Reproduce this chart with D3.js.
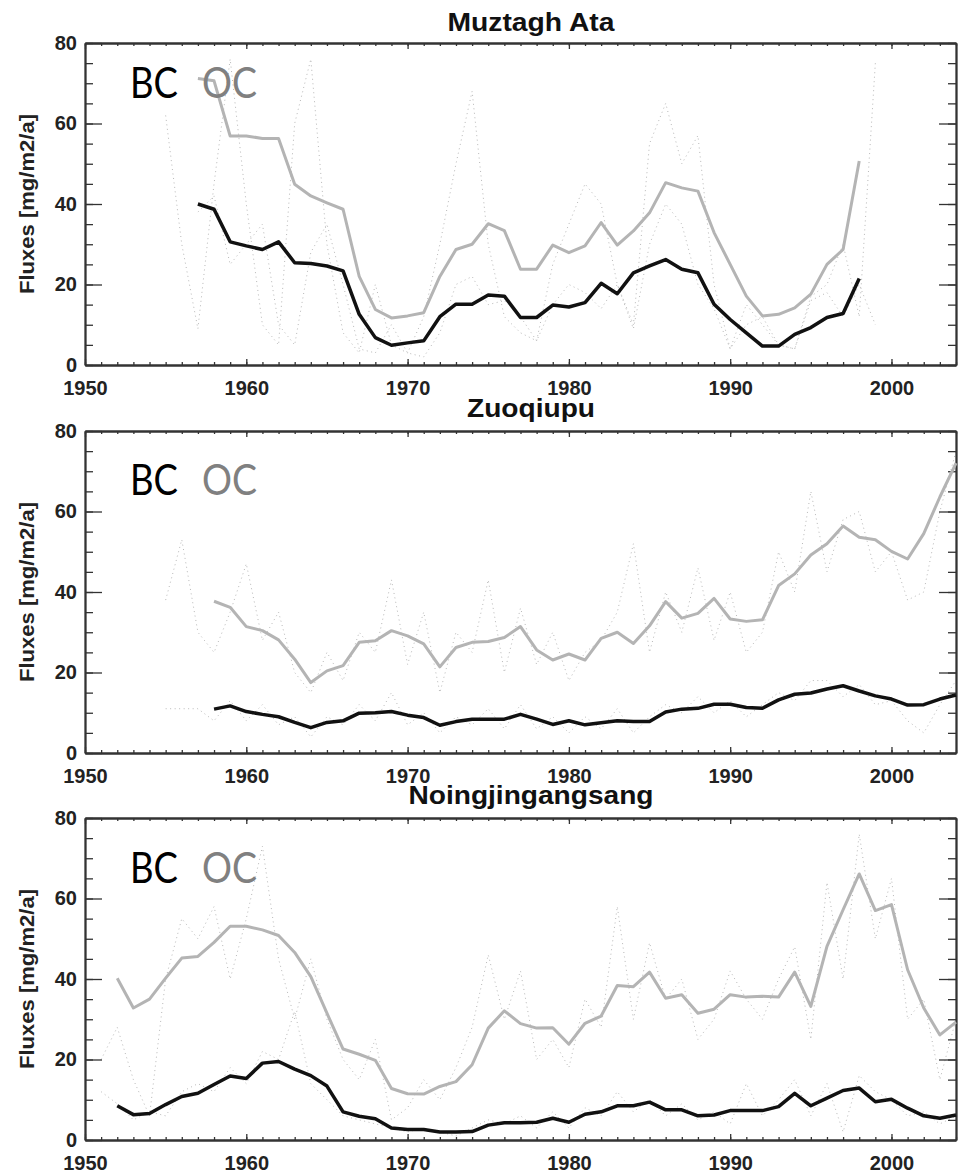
<!DOCTYPE html>
<html>
<head>
<meta charset="utf-8">
<script src="https://cdn.jsdelivr.net/npm/d3@7"></script>
<style>
  body { margin: 0; background: #fff; }
  svg text { font-family: "Liberation Sans", Arial, sans-serif; }
</style>
</head>
<body>
<script>
// tick labels
var xTicks = [1950, 1960, 1970, 1980, 1990, 2000];
var yTicks = [0, 20, 40, 60, 80];
var titles = ["Muztagh Ata", "Zuoqiupu", "Noingjingangsang"];

// Muztagh Ata, smoothed fluxes from 1957
var muztaghStart = 1957;
var muztaghBC = [40, 38.7, 30.6, 29.6, 28.7, 30.6, 25.4, 25.2, 24.6, 23.4, 12.6, 6.8, 4.9, 5.5, 6.0, 12.0,
  15.1, 15.1, 17.4, 17.1, 11.8, 11.8, 14.9, 14.4, 15.5, 20.3, 17.7, 22.9, 24.6, 26.2, 23.8, 22.9,
  15.1, 11.3, 8.0, 4.7, 4.7, 7.6, 9.3, 11.8, 12.8, 21.5];
var muztaghOC = [71.2, 70.6, 56.9, 56.9, 56.3, 56.3, 44.9, 42.0, 40.3, 38.7, 22.0, 13.8, 11.7, 12.2, 13.0, 22.0,
  28.7, 30.0, 35.1, 33.4, 23.8, 23.8, 29.8, 27.9, 29.6, 35.4, 29.8, 33.3, 37.8, 45.3, 44.0, 43.2,
  32.9, 25.0, 17.1, 12.2, 12.6, 14.2, 17.6, 25.0, 28.7, 50.7];
// Muztagh Ata, annual values (dotted), estimated, from 1955
var muztaghRawStart = 1955;
var muztaghOCraw = [62, 30, 9, 45, 76, 40, 10, 5, 60, 76, 30, 8, 3, 20, 5, 3, 12, 30, 50, 68, 30, 12, 8, 6,
  25, 35, 45, 40, 20, 10, 55, 65, 50, 57, 20, 4, 15, 10, 5, 4, 17, 20, 30, 12, 75];
var muztaghBCraw = [null, null, 38, 42, 25, 30, 35, 10, 5, 28, 35, 20, 4, 3, 10, 3, 2, 8, 20, 22, 15, 16, 12, 6,
  15, 20, 18, 14, 20, 9, 30, 40, 35, 20, 14, 4, 10, 12, 5, 4, 16, 18, 12, 20, 10];

// Zuoqiupu, from 1958
var zuoqiupuStart = 1958;
var zuoqiupuBC = [10.9, 11.7, 10.3, 9.6, 9.0, 7.6, 6.3, 7.6, 8.0, 9.9, 10.0, 10.3, 9.4, 8.8, 6.9, 7.8,
  8.4, 8.4, 8.4, 9.6, 8.4, 7.1, 8.0, 7.0, 7.5, 8.0, 7.8, 7.8, 10.2, 10.9, 11.1, 12.1,
  12.1, 11.3, 11.1, 13.2, 14.6, 14.9, 15.9, 16.7, 15.4, 14.2, 13.4, 11.9, 12.0, 13.4, 14.4];
var zuoqiupuOC = [37.7, 36.2, 31.4, 30.4, 28.1, 23.3, 17.5, 20.4, 21.7, 27.5, 27.9, 30.4, 29.1, 27.1, 21.4, 26.2,
  27.5, 27.7, 28.7, 31.4, 25.6, 23.1, 24.6, 23.1, 28.5, 30.0, 27.2, 31.6, 37.6, 33.5, 34.7, 38.4,
  33.3, 32.7, 33.1, 41.6, 44.5, 49.2, 52.0, 56.4, 53.6, 53.0, 50.1, 48.2, 54.5, 63.6, 72.0];
// Zuoqiupu, annual values (dotted), estimated, from 1955
var zuoqiupuRawStart = 1955;
var zuoqiupuOCraw = [38, 53, 30, 25, 35, 47, 28, 35, 20, 15, 25, 18, 30, 25, 43, 22, 35, 15, 30, 25, 43, 20,
  36, 22, 30, 18, 25, 28, 35, 52, 25, 40, 30, 46, 28, 40, 25, 30, 50, 40, 65, 45, 58, 60, 45, 50,
  38, 40, 60, 75];
var zuoqiupuBCraw = [11, 11, 11, 8, 13, 8, 12, 7, 9, 4, 9, 7, 12, 8, 15, 7, 10, 5, 9, 7, 11, 6,
  12, 6, 9, 5, 9, 6, 11, 5, 9, 12, 10, 14, 10, 13, 9, 12, 15, 13, 18, 18, 14, 17, 12, 13,
  8, 5, 12, 18];

// Noingjingangsang, from 1952
var noingStart = 1952;
var noingBC = [8.5, 6.3, 6.6, 8.8, 10.8, 11.6, 13.8, 15.9, 15.3, 19.1, 19.5, 17.6, 16.0, 13.4, 7.0, 5.9,
  5.3, 3.0, 2.6, 2.6, 2.0, 2.0, 2.1, 3.7, 4.3, 4.3, 4.4, 5.4, 4.4, 6.4, 7.0, 8.5,
  8.5, 9.4, 7.5, 7.5, 6.0, 6.2, 7.3, 7.3, 7.3, 8.3, 11.6, 8.5, 10.4, 12.3, 12.9, 9.5,
  10.1, 7.9, 6.0, 5.4, 6.2];
var noingOC = [40.2, 32.8, 35.0, 40.2, 45.2, 45.6, 49.1, 53.1, 53.1, 52.2, 50.8, 46.6, 40.6, 31.5, 22.6, 21.3,
  19.8, 12.8, 11.5, 11.4, 13.3, 14.5, 18.7, 27.8, 32.1, 28.9, 27.8, 27.9, 23.8, 29.0, 30.8, 38.4,
  38.1, 41.7, 35.2, 36.1, 31.5, 32.5, 36.1, 35.5, 35.7, 35.5, 41.7, 33.2, 48.1, 57.2, 66.1, 57.0,
  58.5, 42.3, 32.8, 26.1, 29.3];
// Noingjingangsang, annual values (dotted), estimated, from 1951
var noingRawStart = 1951;
var noingOCraw = [20, 28, 15, 6, 40, 55, 50, 58, 40, 55, 73, 45, 30, 45, 30, 20, 15, 25, 5, 8, 15, 10,
  18, 28, 46, 30, 42, 20, 25, 18, 35, 28, 58, 30, 49, 35, 40, 25, 30, 42, 35, 30, 40, 48, 25, 64,
  40, 76, 50, 65, 30, 35, 15, 30];
var noingBCraw = [12, 9, 5, 7, 6, 12, 14, 12, 18, 14, 22, 20, 32, 14, 10, 6, 5, 4, 3, 2, 3, 2,
  1, 3, 5, 4, 6, 3, 7, 3, 8, 6, 12, 7, 10, 6, 9, 5, 7, 4, 14, 6, 10, 15, 6, 14,
  2, 16, 12, 10, 6, 7, 4, 6];

var panels = [
  { title: titles[0], start: muztaghStart, bc: muztaghBC, oc: muztaghOC,
    rawStart: muztaghRawStart, raw: [muztaghOCraw, muztaghBCraw] },
  { title: titles[1], start: zuoqiupuStart, bc: zuoqiupuBC, oc: zuoqiupuOC,
    rawStart: zuoqiupuRawStart, raw: [zuoqiupuOCraw, zuoqiupuBCraw] },
  { title: titles[2], start: noingStart, bc: noingBC, oc: noingOC,
    rawStart: noingRawStart, raw: [noingOCraw, noingBCraw] }
];

var width = 970, height = 1174;
var left = 85, right = 956, plotH = 322;
var tops = [43, 431, 818];
var titleWidths = [167, 128, 245];
var titleOffsets = [12, 14, 14];
var legendOffsets = [55, 64, 65];

var svg = d3.select("body").append("svg").attr("width", width).attr("height", height);

var x = d3.scaleLinear().domain([1950, 2004]).range([left, right]);

panels.forEach(function (p, k) {
  var top = tops[k];
  var y = d3.scaleLinear().domain([0, 80]).range([top + plotH, top]);
  var g = svg.append("g");

  // annual values, faint dotted
  var rawLine = d3.line()
    .defined(function (d) { return d != null; })
    .x(function (d, i) { return x(p.rawStart + i); })
    .y(function (d) { return y(d); });
  p.raw.forEach(function (r) {
    g.append("path").datum(r).attr("d", rawLine)
      .attr("fill", "none").attr("stroke", "#b8b8b8").attr("stroke-width", 1)
      .attr("stroke-dasharray", "1,3.5");
  });

  // minor + major ticks on all four sides, IDL style (inward)
  var minorYears = d3.range(1950, 2005);
  var minorY = d3.range(0, 81, 5);
  g.append("g").attr("class", "ax").attr("transform", "translate(0," + y(0) + ")")
    .call(d3.axisBottom(x).tickValues(minorYears).tickSize(-3).tickSizeOuter(0).tickFormat(""));
  g.append("g").attr("class", "ax").attr("transform", "translate(0," + y(80) + ")")
    .call(d3.axisTop(x).tickValues(minorYears).tickSize(-3).tickSizeOuter(0).tickFormat(""));
  g.append("g").attr("class", "ax").attr("transform", "translate(" + left + ",0)")
    .call(d3.axisLeft(y).tickValues(minorY).tickSize(-8).tickSizeOuter(0).tickFormat(""));
  g.append("g").attr("class", "ax").attr("transform", "translate(" + right + ",0)")
    .call(d3.axisRight(y).tickValues(minorY).tickSize(-8).tickSizeOuter(0).tickFormat(""));

  g.append("g").attr("class", "ax lab").attr("transform", "translate(0," + y(0) + ")")
    .call(d3.axisBottom(x).tickValues(xTicks).tickSize(-6).tickSizeOuter(0).tickPadding(16).tickFormat(d3.format("d")));
  g.append("g").attr("class", "ax").attr("transform", "translate(0," + y(80) + ")")
    .call(d3.axisTop(x).tickValues(xTicks).tickSize(-6).tickSizeOuter(0).tickFormat(""));
  g.append("g").attr("class", "ax lab").attr("transform", "translate(" + left + ",0)")
    .call(d3.axisLeft(y).tickValues(yTicks).tickSize(-17).tickSizeOuter(0).tickPadding(8));
  g.append("g").attr("class", "ax").attr("transform", "translate(" + right + ",0)")
    .call(d3.axisRight(y).tickValues(yTicks).tickSize(-17).tickSizeOuter(0).tickFormat(""));

  // smoothed series
  var line = d3.line()
    .x(function (d, i) { return x(p.start + i); })
    .y(function (d) { return y(d); });

  g.append("path").datum(p.oc).attr("d", line)
    .attr("fill", "none").attr("stroke", "#b4b4b4").attr("stroke-width", 3)
    .attr("stroke-linejoin", "round");
  g.append("path").datum(p.bc).attr("d", line)
    .attr("fill", "none").attr("stroke", "#111").attr("stroke-width", 3.5)
    .attr("stroke-linejoin", "round");

  // title
  g.append("text").attr("x", 531).attr("y", top - titleOffsets[k])
    .attr("text-anchor", "middle").attr("font-weight", "bold").attr("font-size", 25)
    .attr("textLength", titleWidths[k]).attr("lengthAdjust", "spacingAndGlyphs")
    .attr("fill", "#111").text(p.title);

  // y label
  g.append("text")
    .attr("transform", "translate(34," + (top + plotH / 2) + ") rotate(-90)")
    .attr("text-anchor", "middle").attr("font-weight", "bold").attr("font-size", 21)
    .attr("textLength", 180).attr("lengthAdjust", "spacingAndGlyphs")
    .attr("fill", "#222").text("Fluxes [mg/m2/a]");

  // legend
  g.append("text").attr("x", 130).attr("y", top + legendOffsets[k])
    .style("font-family", "Lato, 'Open Sans', sans-serif").attr("font-size", 42)
    .attr("textLength", 48).attr("lengthAdjust", "spacingAndGlyphs")
    .attr("fill", "#000").text("BC");
  g.append("text").attr("x", 202).attr("y", top + legendOffsets[k])
    .style("font-family", "Lato, 'Open Sans', sans-serif").attr("font-size", 42)
    .attr("textLength", 55).attr("lengthAdjust", "spacingAndGlyphs")
    .attr("fill", "#808080").text("OC");
});

svg.selectAll(".ax .domain").attr("stroke", "#333").attr("stroke-width", 1.8);
svg.selectAll(".ax .tick line").attr("stroke", "#333").attr("stroke-width", 1.3);
svg.selectAll(".lab .tick text").attr("font-size", 20).attr("font-weight", "bold").attr("fill", "#222");
</script>
</body>
</html>
